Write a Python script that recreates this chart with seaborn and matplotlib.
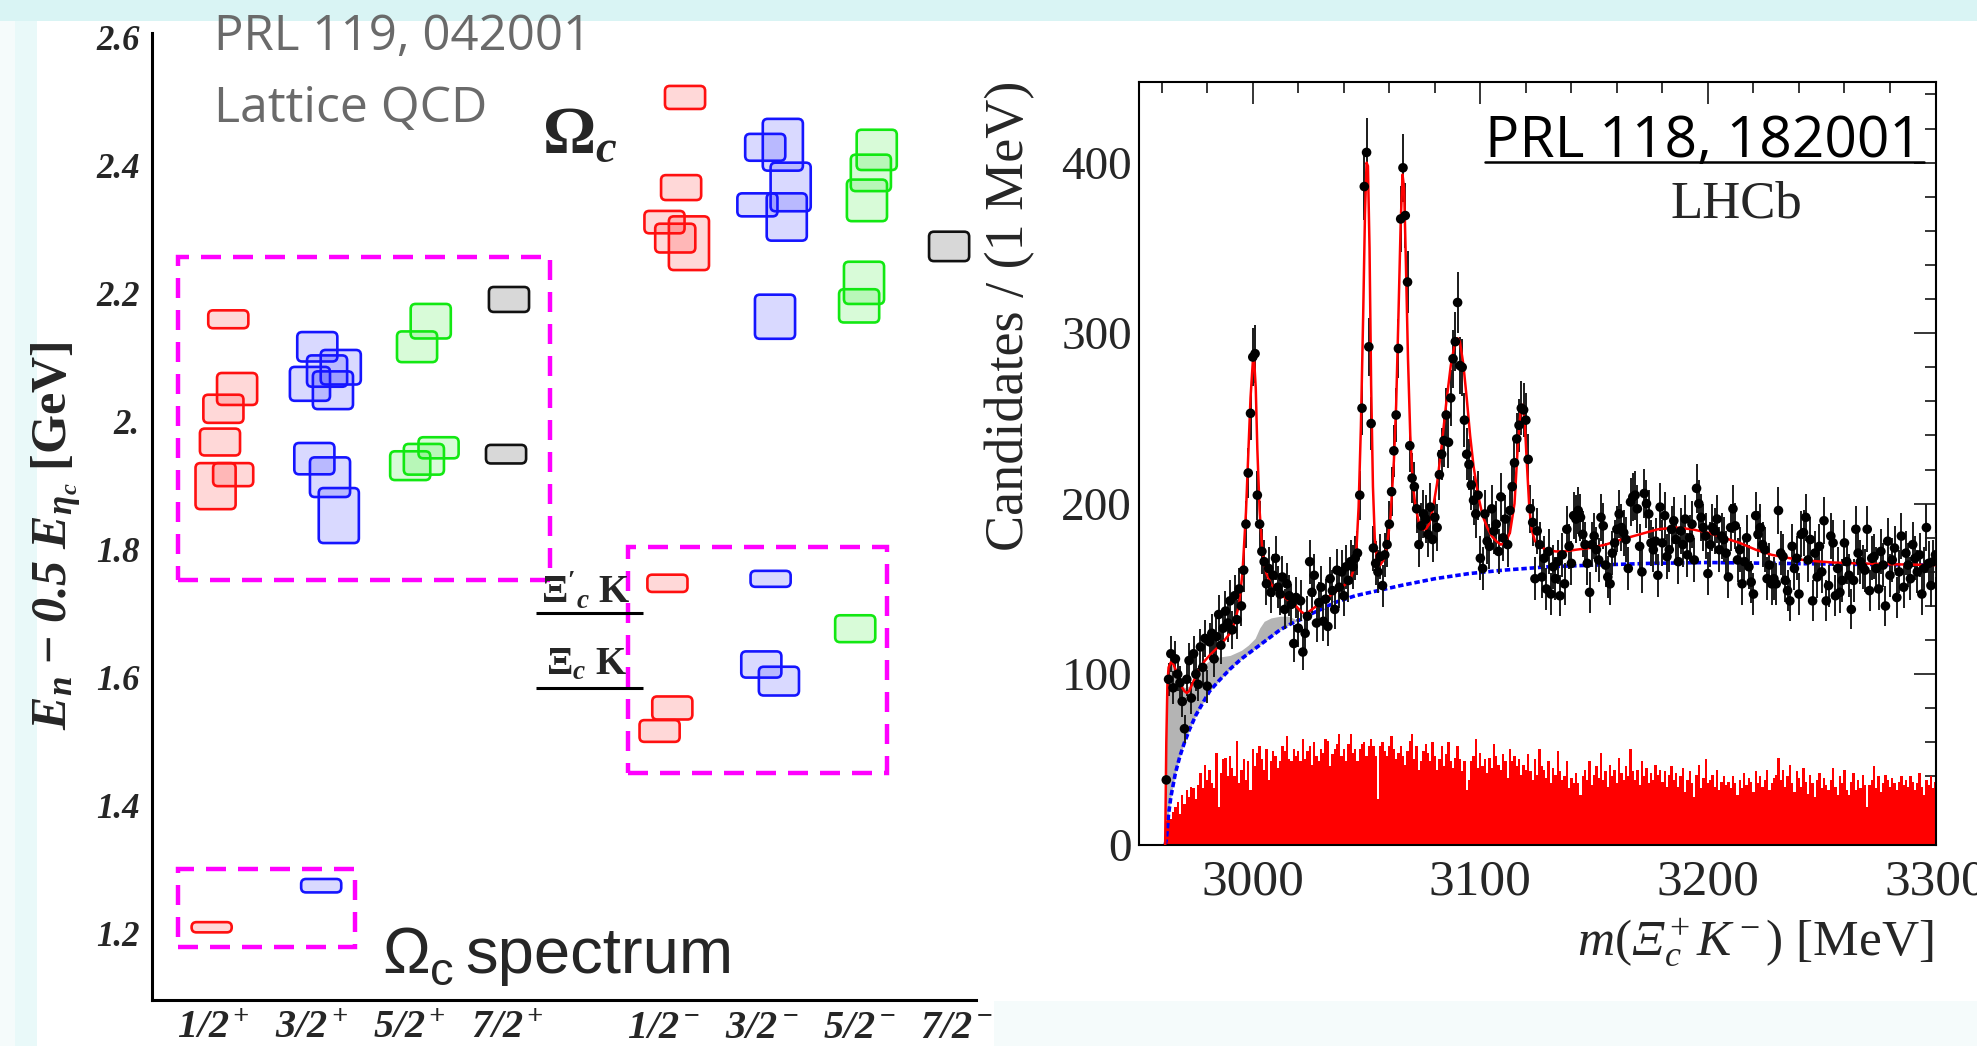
import numpy as np
import pandas as pd
import matplotlib
matplotlib.use("Agg")
import matplotlib.pyplot as plt
import seaborn as sns
from matplotlib.patches import Rectangle, FancyBboxPatch
from matplotlib.lines import Line2D
from matplotlib.ticker import MultipleLocator

# ---------------- Lattice QCD spectrum (left panel) ----------------
jp_labels = [r"$\mathbfit{1/2^+}$", r"$\mathbfit{3/2^+}$", r"$\mathbfit{5/2^+}$", r"$\mathbfit{7/2^+}$",
             r"$\mathbfit{1/2^-}$", r"$\mathbfit{3/2^-}$", r"$\mathbfit{5/2^-}$", r"$\mathbfit{7/2^-}$"]
jp_slots = [1, 2, 3, 4, 5.6, 6.6, 7.6, 8.6]
level_ticks = [1.2, 1.4, 1.6, 1.8, 2.0, 2.2, 2.4, 2.6]
level_tick_labels = ["1.2", "1.4", "1.6", "1.8", "2.", "2.2", "2.4", "2.6"]

# energy levels: x position, central value [GeV], uncertainty band height [GeV]
red_x = [1.15, 1.24, 1.10, 1.065, 1.02, 1.20, 5.82, 5.78, 5.61, 5.72, 5.86, 5.64, 5.69, 5.56, 0.98]
red_y = [2.160, 2.051, 2.020, 1.968, 1.899, 1.917, 2.507, 2.366, 2.312, 2.287, 2.279, 1.747, 1.552, 1.516, 1.209]
red_h = [0.028, 0.050, 0.044, 0.042, 0.072, 0.036, 0.036, 0.039, 0.035, 0.045, 0.084, 0.027, 0.036, 0.034, 0.016]

blue_x = [2.06, 2.30, 2.16, 1.985, 2.22, 2.03, 2.19, 2.28, 6.64, 6.82, 6.56, 6.90, 6.86, 6.74, 6.695, 6.60, 6.78, 2.10]
blue_y = [2.117, 2.085, 2.079, 2.059, 2.049, 1.942, 1.913, 1.853, 2.429, 2.433, 2.339, 2.367, 2.320, 2.164,
          1.754, 1.620, 1.594, 1.274]
blue_h = [0.046, 0.054, 0.049, 0.053, 0.059, 0.049, 0.062, 0.086, 0.042, 0.081, 0.036, 0.076, 0.074, 0.069,
          0.025, 0.041, 0.045, 0.021]

green_x = [3.08, 3.22, 3.01, 3.15, 3.30, 7.78, 7.72, 7.68, 7.65, 7.60, 7.56]
green_y = [2.117, 2.157, 1.931, 1.941, 1.959, 2.425, 2.389, 2.346, 2.217, 2.181, 1.676]
green_h = [0.048, 0.054, 0.045, 0.048, 0.033, 0.063, 0.057, 0.065, 0.066, 0.052, 0.042]

black_x = [4.02, 3.99, 8.52]
black_y = [2.191, 1.949, 2.274]
black_h = [0.039, 0.029, 0.046]

# dashed groupings (x0, x1, y0, y1)
group_boxes = [(0.64, 4.44, 1.752, 2.257), (5.24, 7.88, 1.450, 1.804), (0.64, 2.45, 1.178, 1.300)]

# two-particle thresholds
threshold_labels = [r"$\mathbf{\Xi'_{\mathbfit{c}}}\ \mathbf{K}$", r"$\mathbf{\Xi_{\mathbfit{c}}}\ \mathbf{K}$"]
threshold_y = [1.700, 1.583]
threshold_x = (4.30, 5.39)

# ---------------- LHCb m(Xi_c+ K-) spectrum (right panel) ----------------
first_bin_center = 2962
candidates = [
    38, 97, 112, 92, 109, 100, 95, 84, 68, 97,
    108, 86, 112, 100, 94, 116, 104, 121, 93, 119,
    124, 109, 122, 135, 117, 127, 137, 130, 143, 126,
    146, 132, 150, 140, 161, 188, 218, 253, 286, 288,
    205, 188, 172, 166, 153, 162, 148, 158, 168, 151,
    147, 157, 138, 153, 146, 141, 118, 145, 127, 143,
    113, 124, 134, 166, 148, 158, 130, 142, 151, 131,
    144, 128, 156, 149, 138, 161, 151, 160, 146, 163,
    155, 166, 163, 168, 171, 205, 256, 386, 406, 292,
    247, 174, 165, 160, 169, 152, 170, 176, 188, 207,
    231, 252, 291, 367, 397, 369, 330, 234, 215, 210,
    197, 176, 187, 194, 191, 182, 198, 179, 192, 186,
    217, 229, 237, 252, 236, 262, 285, 295, 318, 281,
    280, 249, 229, 223, 211, 202, 194, 205, 168, 162,
    194, 178, 175, 197, 184, 188, 172, 204, 180, 191,
    176, 196, 210, 224, 238, 246, 256, 255, 249, 226,
    197, 189, 156, 184, 176, 157, 168, 150, 172, 147,
    163, 156, 166, 146, 170, 153, 185, 175, 165, 193,
    191, 196, 192, 182, 176, 165, 148, 176, 181, 173,
    167, 192, 187, 164, 157, 153, 171, 177, 185, 194,
    186, 183, 179, 162, 201, 204, 205, 197, 175, 160,
    206, 200, 194, 177, 173, 178, 158, 198, 177, 193,
    169, 173, 185, 190, 179, 166, 184, 176, 191, 170,
    180, 188, 167, 209, 200, 192, 186, 181, 159, 176,
    186, 184, 191, 173, 181, 179, 171, 157, 186, 197,
    187, 167, 173, 153, 166, 180, 163, 154, 147, 193,
    182, 186, 176, 173, 156, 164, 153, 156, 153, 196,
    171, 169, 155, 149, 143, 175, 162, 168, 147, 182,
    183, 192, 167, 179, 143, 171, 157, 175, 160, 190,
    143, 152, 181, 177, 146, 162, 148, 155, 177, 166,
    158, 138, 155, 185, 171, 166, 163, 161, 185, 149,
    168, 169, 162, 150, 172, 164, 140, 178, 158, 167,
    174, 145, 160, 181, 151, 171, 164, 156, 176, 168,
    160, 170, 147, 162, 186, 165, 152, 166, 170,
]

# wrong-sign / sideband histogram (red)
sideband = [
    14, 16, 15, 19, 22, 25, 18, 29, 24, 32,
    28, 34, 33, 27, 35, 42, 33, 47, 38, 44,
    36, 33, 54, 22, 42, 50, 51, 40, 52, 45,
    40, 61, 36, 44, 50, 38, 49, 32, 56, 46,
    54, 58, 50, 44, 56, 38, 49, 55, 52, 45,
    49, 58, 55, 64, 50, 49, 56, 52, 55, 49,
    62, 50, 55, 58, 47, 60, 52, 49, 56, 54,
    62, 61, 46, 53, 56, 59, 65, 52, 56, 49,
    59, 65, 54, 56, 49, 56, 59, 60, 52, 58,
    62, 58, 52, 27, 58, 60, 55, 52, 58, 64,
    56, 50, 54, 58, 52, 47, 55, 61, 65, 50,
    58, 44, 49, 55, 59, 54, 49, 60, 52, 44,
    50, 58, 46, 53, 60, 49, 45, 51, 58, 50,
    43, 49, 32, 38, 49, 52, 62, 45, 54, 46,
    50, 42, 51, 45, 59, 52, 47, 44, 53, 49,
    39, 56, 49, 52, 46, 50, 41, 47, 44, 53,
    43, 38, 50, 41, 56, 46, 44, 39, 49, 36,
    45, 41, 55, 43, 38, 40, 49, 33, 39, 36,
    42, 36, 29, 40, 44, 38, 49, 35, 41, 46,
    39, 54, 38, 43, 34, 47, 40, 44, 36, 51,
    42, 38, 46, 40, 56, 43, 38, 44, 35, 49,
    40, 45, 36, 42, 38, 47, 41, 44, 37, 43,
    34, 41, 46, 38, 42, 34, 40, 45, 31, 38,
    43, 36, 28, 41, 47, 33, 39, 50, 36, 38,
    41, 34, 44, 32, 37, 40, 35, 37, 33, 40,
    36, 29, 38, 33, 42, 35, 39, 37, 31, 43,
    36, 40, 34, 38, 44, 32, 36, 39, 41, 51,
    38, 44, 34, 40, 47, 36, 31, 43, 39, 34,
    45, 37, 30, 41, 36, 28, 38, 42, 33, 39,
    35, 32, 38, 45, 34, 29, 40, 36, 44, 32,
    29, 37, 42, 32, 38, 33, 41, 35, 22, 35,
    38, 46, 33, 40, 31, 36, 41, 38, 34, 39,
    36, 32, 37, 40, 35, 38, 34, 40, 37, 32,
    36, 42, 34, 29, 38, 35, 40, 33, 37,
]

# total fit (red line)
fit_x = [2961.5, 2962, 2962.5, 2963, 2964, 2965, 2966, 2967, 2968, 2969, 2970, 2971, 2972, 2973, 2975, 2977,
         2979, 2981, 2984, 2987, 2990, 2992, 2994, 2995.5, 2997, 2998, 2999, 3000, 3000.6, 3001.3, 3002, 3003,
         3004, 3005, 3006, 3008, 3010, 3013, 3016, 3019, 3021, 3023, 3026, 3029, 3032, 3035, 3038, 3041, 3043,
         3044.5, 3045.5, 3046.5, 3047.5, 3048.5, 3049.3, 3050, 3050.6, 3051.3, 3052, 3052.8, 3053.6, 3054.5,
         3056, 3057.5, 3059, 3060.5, 3062, 3063, 3064, 3065, 3065.8, 3066.5, 3067.3, 3068.2, 3069.2, 3070.3,
         3071.5, 3073, 3074.5, 3076, 3077.5, 3079, 3081, 3083, 3085, 3087, 3088.5, 3090, 3091, 3092.5, 3094,
         3095.5, 3097, 3099, 3101, 3103, 3105, 3107, 3109, 3111, 3113, 3115, 3116.5, 3117.7, 3118.6, 3119.5,
         3120.5, 3121.5, 3122.5, 3124, 3126, 3129, 3133, 3137, 3142, 3148, 3155, 3162, 3170, 3178, 3186, 3193,
         3200, 3207, 3214, 3221, 3228, 3236, 3245, 3255, 3265, 3280, 3300]
fit_y = [0, 60, 95, 104, 107, 106, 103, 99, 95, 92, 90, 89, 90, 93, 99, 104,
         108, 111, 115, 119, 124, 130, 141, 160, 195, 228, 262, 283, 284, 268, 232, 196,
         176, 165, 159, 153, 150, 146, 143, 140, 137, 135, 138, 141, 144, 147, 150, 153, 156,
         162, 172, 198, 245, 310, 370, 400, 398, 350, 270, 210, 180, 168,
         164, 167, 175, 192, 225, 258, 310, 365, 393, 385, 340, 285, 240, 212,
         198, 189, 185, 185, 188, 196, 212, 234, 259, 281, 292, 297, 295, 282, 262,
         240, 222, 205, 193, 186, 181, 178, 176, 177, 183, 200, 235, 255, 258, 248,
         222, 198, 185, 178, 175, 173, 172, 172, 173, 174, 176, 179, 182, 185, 186, 185,
         183, 180, 177, 173, 170, 168, 166.5, 165.5, 165, 164.5, 164]

# background component (blue dotted) and feed-down contribution (grey band)
bkg_x = [2961.5, 2962, 2962.5, 2963, 2964, 2966, 2968, 2970, 2972, 2975, 2978, 2981, 2985, 2990, 2995, 2998,
         3001, 3003, 3005, 3008, 3012, 3016, 3019, 3021, 3025, 3030, 3036, 3045, 3055, 3065, 3080, 3095, 3110,
         3130, 3150, 3175, 3200, 3230, 3260, 3300]
bkg_y = [0, 3, 10, 18, 28, 42, 52, 60, 67, 76, 83, 90, 96, 103, 109, 112,
         115, 117, 119, 122, 126, 129, 131, 132, 135, 138, 142, 146, 149, 152, 156, 159, 161,
         163, 164, 165, 165.5, 165, 164.5, 164]
feeddown_top = [0, 60, 95, 104, 106, 102, 96, 92, 93, 100, 105, 108, 110, 111, 114, 117,
                121, 127, 131, 133, 134, 134, 132, 132]

# ---------------- style ----------------
sns.set_theme(style="white")
plt.rcParams.update({
    "font.family": ["Liberation Serif", "DejaVu Serif"],
    "mathtext.fontset": "custom",
    "mathtext.rm": "Liberation Serif",
    "mathtext.it": "Liberation Serif:italic",
    "mathtext.bf": "Liberation Serif:bold",
    # the sf slot carries an italic serif so that capital Greek can be slanted
    "mathtext.sf": "Liberation Serif:italic",
    "axes.unicode_minus": True,
})
try:
    plt.rcParams["mathtext.bfit"] = "Liberation Serif:bold:italic"
except KeyError:
    pass

W, H = 1977, 1046
fig = plt.figure(figsize=(W / 100, H / 100), dpi=100, facecolor="#f5fbfb")


def panel(x0, y0, x1, y1, color):
    fig.add_artist(Rectangle((x0 / W, 1 - y1 / H), (x1 - x0) / W, (y1 - y0) / H,
                             transform=fig.transFigure, facecolor=color, edgecolor="none", zorder=-10))


panel(0, 0, W, 21, "#d9f4f4")
panel(15, 21, 37, H, "#e9f9f9")
panel(37, 21, 994, H, "white")
panel(994, 21, W, 1001, "white")

# ---------------- left axes ----------------
ax1 = fig.add_axes([152 / W, 1 - 1000 / H, 824 / W, 967.5 / H])
ax1.set_facecolor("none")
ax1.set_xlim(0.37, 8.795)
ax1.set_ylim(1.0952, 2.6086)
for s in ("top", "right"):
    ax1.spines[s].set_visible(False)
for s in ("left", "bottom"):
    ax1.spines[s].set_linewidth(2.2)
    ax1.spines[s].set_color("black")
ax1.set_yticks(level_ticks)
ax1.set_yticklabels(level_tick_labels, fontsize=25, fontweight="bold", fontstyle="italic")
ax1.set_xticks(jp_slots)
ax1.set_xticklabels(jp_labels, fontsize=29)
ax1.tick_params(direction="in", length=6, width=2, color="black")
ax1.tick_params(axis="y", pad=9)
ax1.tick_params(axis="x", pad=7)

box_w = 0.41
groups = [
    (red_x, red_y, red_h, "#ff1010"),
    (blue_x, blue_y, blue_h, "#1515ff"),
    (green_x, green_y, green_h, "#12e812"),
    (black_x, black_y, black_h, "#111111"),
]
for xs, ys, hs, col in groups:
    rgb = matplotlib.colors.to_rgb(col)
    for x, y, h in zip(xs, ys, hs):
        ax1.add_patch(FancyBboxPatch((x - box_w / 2, y - h / 2), box_w, h,
                                     boxstyle="round,pad=0,rounding_size=0.05", mutation_aspect=0.153,
                                     facecolor=(*rgb, 0.16), edgecolor=col, lw=1.9, zorder=3))

for x0, x1, y0, y1 in group_boxes:
    ax1.add_patch(Rectangle((x0, y0), x1 - x0, y1 - y0, fill=False, edgecolor="#ff00ff", lw=3.2,
                            linestyle=(0, (4.5, 2.7)), zorder=2, clip_on=False))

label_lift = [0.016, 0.022]
for lab, yv, lift in zip(threshold_labels, threshold_y, label_lift):
    ax1.hlines(yv, *threshold_x, color="black", lw=2.2, zorder=2)
    ax1.text(4.81, yv + lift, lab, ha="center", va="baseline", fontsize=28, zorder=4)

fig.text(57 / W, 1 - 536 / H,
         r"$\mathbfit{E_n}\ \mathbf{-}\ \mathbfit{0.5}\ \mathbfit{E_{\eta_c}}\ \mathbf{[GeV]}$",
         rotation=90, ha="center", va="center", fontsize=36)
fig.text(542 / W, 1 - 153 / H, r"$\mathbf{\Omega}_{\mathbfit{c}}$", fontsize=48, va="baseline")
fig.text(214 / W, 1 - 50 / H, "PRL 119, 042001", fontsize=35.5, family="Open Sans", color="#6a6a6a",
         va="baseline")
fig.text(214 / W, 1 - 122 / H, "Lattice QCD", fontsize=36, family="Open Sans", color="#6a6a6a",
         va="baseline")

renderer = fig.canvas.get_renderer()
t_om = fig.text(382 / W, 1 - 973 / H, "Ω", fontsize=46, family="Liberation Sans", va="baseline")
bb = t_om.get_window_extent(renderer)
t_c = fig.text(bb.x1 / W, 1 - 985 / H, "c", fontsize=34, family="Liberation Sans", va="baseline")
bb = t_c.get_window_extent(renderer)
fig.text((bb.x1 + 12) / W, 1 - 973 / H, "spectrum", fontsize=47, family="Liberation Sans", va="baseline")

# ---------------- right axes ----------------
ax2 = fig.add_axes([1139 / W, 1 - 844.7 / H, 796.5 / W, 763.2 / H])
ax2.set_facecolor("white")
centers = first_bin_center + np.arange(len(candidates))
counts = np.asarray(candidates, dtype=float)
side_df = pd.DataFrame({"mass": first_bin_center + np.arange(len(sideband)), "n": sideband})

ax2.fill_between(bkg_x[:len(feeddown_top)], bkg_y[:len(feeddown_top)], feeddown_top,
                 color="#b4b4b4", lw=0, zorder=1)
sns.histplot(data=side_df, x="mass", weights="n", binwidth=1,
             binrange=(first_bin_center - 0.5, first_bin_center + len(sideband) - 0.5),
             ax=ax2, element="bars", fill=True, color="#ff0000", alpha=1.0, linewidth=0, zorder=1.5)
sns.lineplot(x=bkg_x, y=bkg_y, ax=ax2, color="#0000ff", lw=2.6, linestyle=(0, (1.5, 0.8)),
             estimator=None, sort=False, zorder=2)
ax2.errorbar(centers, counts, yerr=np.sqrt(counts), fmt="none", ecolor="#1a1a1a", elinewidth=1.4,
             capsize=0, zorder=3)
sns.lineplot(x=fit_x, y=fit_y, ax=ax2, color="#ff0000", lw=1.8, estimator=None, sort=False, zorder=4)
sns.scatterplot(x=centers, y=counts, ax=ax2, color="black", s=48, edgecolor="none", linewidth=0, zorder=5)

ax2.set_xlim(2950, 3300)
ax2.set_ylim(0, 447.6)
ax2.set_xlabel("")
ax2.set_ylabel("")
ax2.xaxis.set_major_locator(MultipleLocator(100))
ax2.xaxis.set_minor_locator(MultipleLocator(20))
ax2.yaxis.set_major_locator(MultipleLocator(100))
ax2.yaxis.set_minor_locator(MultipleLocator(20))
for s in ax2.spines.values():
    s.set_linewidth(1.5)
    s.set_color("black")
ax2.tick_params(which="both", direction="in", top=True, right=True, color="black", width=1.1)
ax2.tick_params(which="major", length=16)
ax2.tick_params(which="minor", length=8)
ax2.tick_params(axis="x", labelsize=37, pad=10)
ax2.tick_params(axis="y", labelsize=34, pad=5)

fig.text(1010 / W, 1 - 316 / H, "Candidates / (1 MeV)", rotation=90, ha="center", va="center", fontsize=39)
fig.text(1934 / W, 1 - 943 / H, r"$m(\mathsf{\Xi}_c^+K^-)$ [MeV]", ha="right", va="center", fontsize=37)
fig.text(1485 / W, 1 - 157 / H, "PRL 118, 182001", fontsize=41, family="Open Sans", color="black",
         va="baseline")
fig.add_artist(Line2D([1485 / W, 1924 / W], [1 - 162 / H, 1 - 162 / H], transform=fig.transFigure,
                      color="black", lw=1.8))
fig.text(1670 / W, 1 - 218 / H, "LHCb", fontsize=38, va="baseline")

fig.savefig("out.png", dpi=100, facecolor=fig.get_facecolor())
